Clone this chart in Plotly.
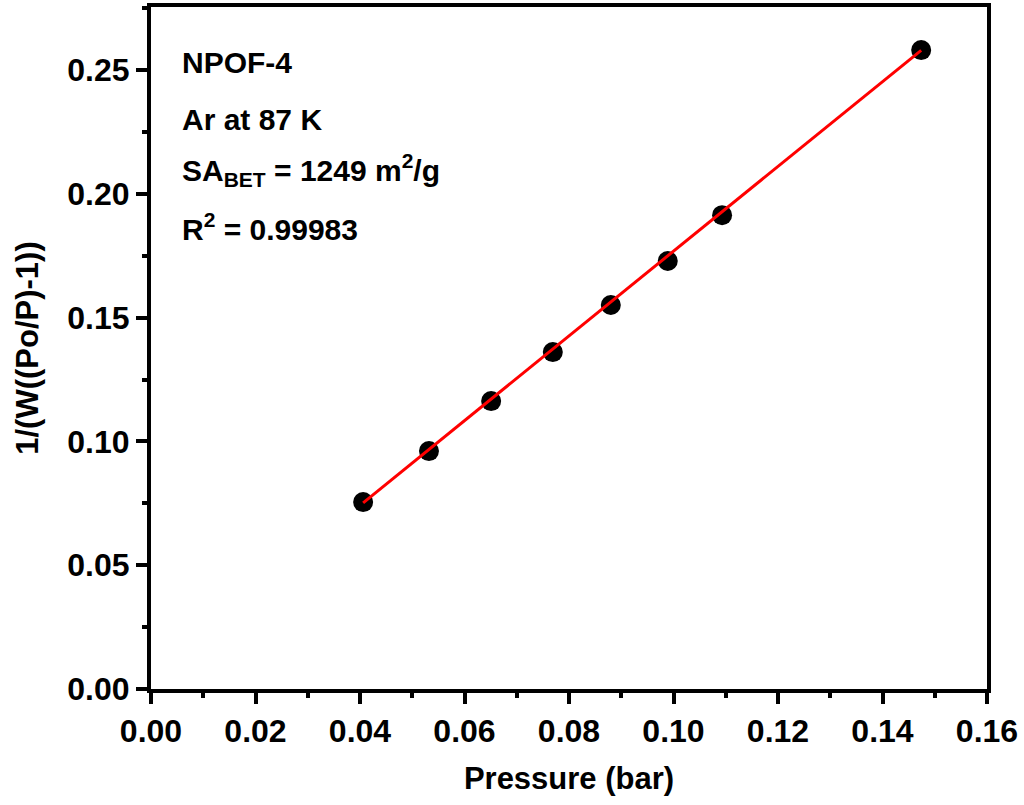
import plotly.graph_objects as go

pressure = [0.0406, 0.0532, 0.0651, 0.0769, 0.0880, 0.0989, 0.1093, 0.1474]
bet_y = [0.0755, 0.0961, 0.1163, 0.1361, 0.1551, 0.1729, 0.1914, 0.2581]
fit_x = [0.0406, 0.1474]
fit_y = [0.0752, 0.2580]

x_ticks = [0.00, 0.02, 0.04, 0.06, 0.08, 0.10, 0.12, 0.14, 0.16]
y_ticks = [0.00, 0.05, 0.10, 0.15, 0.20, 0.25]

info_lines = ["NPOF-4", "Ar at 87 K", "SA<sub>BET</sub> = 1249 m<sup>2</sup>/g", "R<sup>2</sup> = 0.99983"]
info_y = [0.2530, 0.2300, 0.2095, 0.1865]

FONT = "Liberation Sans, Arial, sans-serif"

fig = go.Figure()
fig.add_trace(go.Scatter(x=pressure, y=bet_y, mode="markers",
                         marker=dict(color="black", size=20), showlegend=False))
fig.add_trace(go.Scatter(x=fit_x, y=fit_y, mode="lines",
                         line=dict(color="red", width=3), showlegend=False))

for t, yv in zip(info_lines, info_y):
    fig.add_annotation(x=0.0056, y=yv, xref="x", yref="y", text=t, showarrow=False,
                       xanchor="left", yanchor="middle",
                       font=dict(family=FONT, size=30, color="black", weight="bold"))

axis_common = dict(showline=True, linecolor="black", linewidth=4, mirror=True,
                   ticks="outside", ticklen=11, tickwidth=4, tickcolor="black",
                   showgrid=False, zeroline=False,
                   tickfont=dict(family=FONT, size=32, color="black", weight="bold"),
                   tickformat=".2f")

fig.update_xaxes(range=[0, 0.16], tickvals=x_ticks, **axis_common,
                 minor=dict(dtick=0.01, ticks="outside", ticklen=5, tickwidth=4, tickcolor="black"),
                 title=dict(text="Pressure (bar)", standoff=20,
                            font=dict(family=FONT, size=31, color="black", weight="bold")))
fig.update_yaxes(range=[0, 0.2755], tickvals=y_ticks, **axis_common,
                 minor=dict(dtick=0.025, ticks="outside", ticklen=5, tickwidth=4, tickcolor="black"),
                 title=dict(text="1/(W((Po/P)-1))", standoff=20,
                            font=dict(family=FONT, size=31, color="black", weight="bold")))

fig.update_layout(width=1024, height=805, plot_bgcolor="white", paper_bgcolor="white",
                  margin=dict(l=151, r=37, t=7, b=116, autoexpand=False))

fig.write_html("out.html", config={"displayModeBar": False},
               post_script="document.body.style.margin='0';document.body.style.padding='0';")
